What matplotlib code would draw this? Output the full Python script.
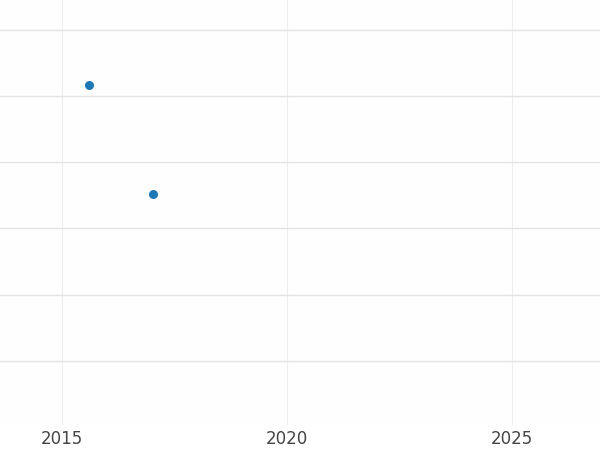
import matplotlib
matplotlib.use("Agg")
import matplotlib.pyplot as plt

years = [2015.6, 2017.02]
values = [4.17, 2.52]
x_ticks = [2015, 2020, 2025]
y_grid = [0, 1, 2, 3, 4, 5]

fig = plt.figure(figsize=(6, 4.5), dpi=100)
ax = fig.add_axes([0, 25 / 450, 1, 425 / 450])
ax.scatter(years, values, s=30, color="#1f77b4", zorder=3)

ax.set_xlim(2013.62, 2026.96)
ax.set_ylim(-0.97, 5.45)
ax.set_xticks(x_ticks)
ax.set_yticks(y_grid)
ax.set_yticklabels([])
ax.tick_params(axis="both", length=0, labelsize=12, colors="#444444")
ax.xaxis.grid(True, color="#eeeeee", linewidth=0.8)
ax.yaxis.grid(True, color="#e3e3e3", linewidth=1)
ax.set_axisbelow(True)
for s in ax.spines.values():
    s.set_visible(False)
ax.set_facecolor("#fefefe")

fig.savefig("out.png")
